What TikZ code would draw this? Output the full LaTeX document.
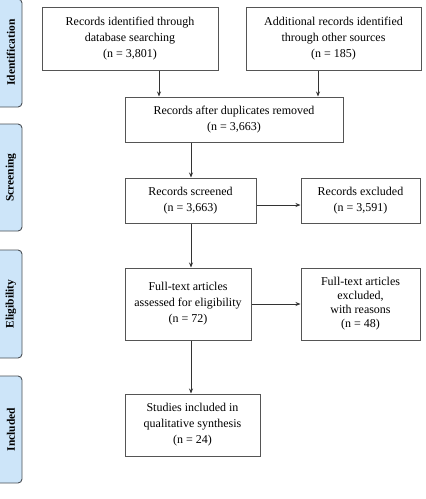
\documentclass[tikz,border=0pt]{standalone}
\usepackage{fontspec}
\setmainfont{Liberation Serif}
\usetikzlibrary{arrows.meta}
\definecolor{tabfill}{HTML}{CDE5F9}
\definecolor{tabline}{HTML}{4A4F55}
\definecolor{boxline}{HTML}{555555}
\begin{document}
\begin{tikzpicture}[x=1pt,y=-1pt,
  box/.style={draw=boxline,line width=1pt,align=center,inner sep=0pt,
    font=\fontsize{12}{16}\selectfont},
  tab/.style={draw=tabline,fill=tabfill,line width=0.9pt,rounded corners=4pt},
  tablabel/.style={rotate=90,font=\fontsize{11.5}{14}\selectfont\bfseries},
  arr/.style={draw=black!80,line width=0.9pt,-{Stealth[length=5pt,width=4pt]}}]
\useasboundingbox (0,0) rectangle (426,499);
\clip (0,0) rectangle (426,499);
% phase tabs
\draw[tab] (-10,-1) rectangle (22,107);
\draw[tab] (-10,124) rectangle (22,231);
\draw[tab] (-10,250) rectangle (22,358);
\draw[tab] (-10,376) rectangle (22,483);
\node[tablabel] (tid) at (11,52.5) {Identification};
\node[tablabel] (tsc) at (11,177.5) {Screening};
\node[tablabel] (tel) at (11,304) {Eligibility};
\node[tablabel] (tin) at (11,429.5) {Included};
% boxes
\node[box,minimum width=176pt,minimum height=63pt] (b1) at (130,38.5)
  {Records identified through\\database searching\\(n = 3,801)};
\node[box,minimum width=175pt,minimum height=63pt] (b2) at (333.5,38.5)
  {Additional records identified\\through other sources\\(n = 185)};
\node[box,minimum width=218pt,minimum height=45pt] (b3) at (234,119.5)
  {Records after duplicates removed\\(n = 3,663)};
\node[box,minimum width=131pt,minimum height=45pt] (b4) at (190.5,200.5)
  {Records screened\\(n = 3,663)};
\node[box,minimum width=119pt,minimum height=45pt] (b5) at (360.5,200.5)
  {Records excluded\\(n = 3,591)};
\node[box,minimum width=126pt,minimum height=72pt] (b6) at (188,304)
  {Full-text articles\\assessed for eligibility\\(n = 72)};
\node[box,minimum width=119pt,minimum height=72pt,font=\fontsize{12}{14}\selectfont] (b7) at (360.5,304)
  {Full-text articles\\excluded,\\with reasons\\(n = 48)};
\node[box,minimum width=135pt,minimum height=62pt] (b8) at (192.5,425)
  {Studies included in\\qualitative synthesis\\(n = 24)};
% connectors
\draw[arr] (b1.south -| 159,0) -- (b3.north -| 159,0);
\draw[arr] (b2.south -| 318,0) -- (b3.north -| 318,0);
\draw[arr] (b3.south -| 191,0) -- (b4.north -| 191,0);
\draw[arr] (b4.south -| 191,0) -- (b6.north -| 191,0);
\draw[arr] (b6.south -| 191,0) -- (b8.north -| 191,0);
\draw[arr] (b4.east |- 0,205) -- (b5.west |- 0,205);
\draw[arr] (b6.east |- 0,304) -- (b7.west |- 0,304);
\end{tikzpicture}
\end{document}
